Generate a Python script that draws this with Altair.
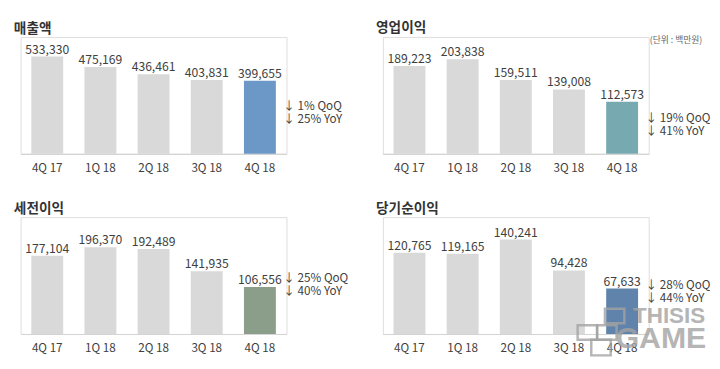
import altair as alt
import pandas as pd

quarters = ["4Q 17", "1Q 18", "2Q 18", "3Q 18", "4Q 18"]
revenue = [533330, 475169, 436461, 403831, 399655]
op_income = [189223, 203838, 159511, 139008, 112573]
pretax = [177104, 196370, 192489, 141935, 106556]
net_income = [120765, 119165, 140241, 94428, 67633]
titles = ["매출액", "영업이익", "세전이익", "당기순이익"]
changes = [
    ["↓ 1% QoQ", "↓ 25% YoY"],
    ["↓ 19% QoQ", "↓ 41% YoY"],
    ["↓ 25% QoQ", "↓ 40% YoY"],
    ["↓ 28% QoQ", "↓ 44% YoY"],
]
unit_text = "(단위 : 백만원)"
watermark = ["THISIS", "GAME"]

highlight_colors = ["#6b98c7", "#77a9b1", "#8a9e89", "#5f83aa"]
y_max = [640000, 252000, 264800, 173500]
note_dy = [21, 12, -14, -8]

FONT = "Noto Sans CJK KR"
TXT = "#404040"
W, H = 273, 120
WM = "#a3a3a3"


def panel(title, values, change, color, ymax, ndy, extra=None):
    df = pd.DataFrame({
        "q": quarters,
        "v": values,
        "label": [f"{v:,}" for v in values],
        "hl": [i == len(quarters) - 1 for i in range(len(quarters))],
    })
    x = alt.X("q:N", sort=quarters,
              scale=alt.Scale(paddingInner=0.4, paddingOuter=0.2),
              axis=alt.Axis(title=None, labelAngle=0, ticks=False,
                            domainColor="#d4d4d4", domainWidth=1.2,
                            labelFontSize=12, labelColor=TXT,
                            labelPadding=9, labelFont=FONT))
    y = alt.Y("v:Q", scale=alt.Scale(domain=[0, ymax]), axis=None)
    base = alt.Chart(df)
    bars = base.mark_bar().encode(
        x=x, y=y,
        color=alt.condition("datum.hl", alt.value(color), alt.value("#d9d9d9")),
    )
    labels = base.mark_text(baseline="alphabetic", dy=-3, fontSize=12.5,
                            color=TXT, font=FONT).encode(x=x, y=y, text="label:N")
    note_df = pd.DataFrame({"q": [quarters[-1]], "v": [values[-1]],
                            "t": ["\n".join(change)]})
    note = alt.Chart(note_df).mark_text(
        align="left", baseline="top", dx=24, dy=ndy, lineBreak="\n",
        lineHeight=13, fontSize=12, color=TXT, font=FONT,
    ).encode(x=x, y=y, text="t:N")
    layers = [bars, labels, note]
    if extra:
        layers += extra
    return alt.layer(*layers).properties(
        width=W, height=H,
        title=alt.TitleParams(title, anchor="start", dx=-7, fontSize=14,
                              font=FONT, fontWeight="bold", color="#333333",
                              offset=1),
    )


unit = alt.Chart(pd.DataFrame({"t": [unit_text]})).mark_text(
    align="right", baseline="middle", fontSize=9, color="#666666", font=FONT
).encode(x=alt.value(328), y=alt.value(3), text="t:N")

wm_df = pd.DataFrame({"t": watermark})
wm1 = alt.Chart(wm_df.iloc[[0]]).mark_text(
    align="right", baseline="middle", fontSize=23, fontWeight="bold",
    color=WM, opacity=0.8, font="Liberation Sans"
).encode(x=alt.value(331), y=alt.value(102), text="t:N")
wm2 = alt.Chart(wm_df.iloc[[1]]).mark_text(
    align="right", baseline="middle", fontSize=31, fontWeight="bold",
    color=WM, opacity=0.8, font="Liberation Sans"
).encode(x=alt.value(332), y=alt.value(125), text="t:N")


def wm_box(x1, x2, y1, y2):
    return alt.Chart(pd.DataFrame({"k": [0]})).mark_rect(
        filled=False, stroke=WM, strokeWidth=2.5, opacity=0.8
    ).encode(x=alt.value(x1), x2=alt.value(x2), y=alt.value(y1), y2=alt.value(y2))


logo = [wm_box(228, 248, 94, 109), wm_box(200, 220, 111, 126),
        wm_box(220, 240, 111, 126), wm_box(214, 234, 126, 142)]

series = [revenue, op_income, pretax, net_income]
extras = [None, [unit], None, logo + [wm1, wm2]]
panels = [panel(titles[i], series[i], changes[i], highlight_colors[i],
                y_max[i], note_dy[i], extras[i]) for i in range(4)]

chart = alt.concat(
    *panels, columns=2,
    spacing={"row": 185 - H, "column": 360 - W + 12}, bounds="flush",
).properties(
    padding={"left": 5, "top": 8, "right": 0, "bottom": 0}
).configure_view(stroke=None).configure(background="white")

chart.save("out.html", embed_options={"renderer": "svg", "actions": False})
